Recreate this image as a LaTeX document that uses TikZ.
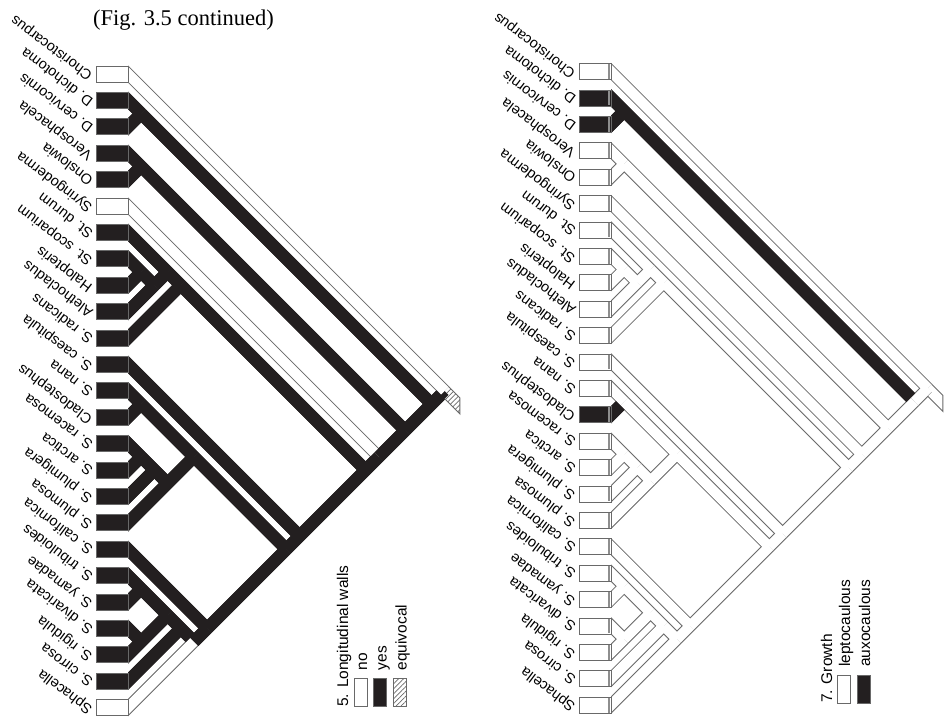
\documentclass[tikz,border=0pt]{standalone}
\usepackage{fontspec}
\setmainfont{Liberation Serif}
\setsansfont{Liberation Sans}
\usetikzlibrary{calc,patterns.meta}
\definecolor{kcol}{RGB}{35,31,32}
\definecolor{gcol}{RGB}{105,105,105}
\newif\ifLeft
\def\pfx{L}
\def\Tip#1#2#3#4{\ifLeft\Tdraw{#1}{#2}{#3}\else\Tdraw{#1}{#2}{#4}\fi}
\def\Edg#1#2#3#4{\ifLeft\Edraw{#1}{#2}{#3}\else\Edraw{#1}{#2}{#4}\fi}
\def\Tdraw#1#2#3{\draw[st#3] ($(\pfx#1-#1)!-11.314pt!(\pfx#2)$) -- (\pfx#2);}
\def\Edraw#1#2#3{\draw[st#3] (\pfx#1) -- (\pfx#2);}
\newcommand\edgelist{%
 \Tip{3}{2-3}{K}{K}
 \Tip{5}{4-5}{K}{W}
 \Tip{9}{8-9}{K}{W}
 \Tip{14}{13-14}{K}{K}
 \Tip{16}{15-16}{K}{W}
 \Tip{21}{20-21}{K}{W}
 \Tip{22}{22-23}{K}{W}
 \Tip{8}{8-9}{K}{W} \Edg{8-9}{8-10}{K}{W}
 \Tip{17}{15-17}{K}{W}
 \Tip{10}{8-10}{K}{W} \Edg{8-10}{7-10}{K}{W}
 \Tip{15}{15-16}{K}{W} \Edg{15-16}{15-17}{K}{W} \Edg{15-17}{15-18}{K}{W}
 \Tip{23}{22-23}{K}{W} \Edg{22-23}{20-23}{K}{W}
 \Tip{11}{7-11}{K}{W}
 \Tip{24}{20-24}{K}{W}
 \Tip{18}{15-18}{K}{W} \Edg{15-18}{13-18}{K}{W}
 \Tip{20}{20-21}{K}{W} \Edg{20-21}{20-23}{K}{W} \Edg{20-23}{20-24}{K}{W} \Edg{20-24}{20-25}{K}{W}
 \Tip{19}{19-25}{K}{W}
 \Tip{13}{13-14}{K}{W} \Edg{13-14}{13-18}{K}{W} \Edg{13-18}{13-25}{K}{W}
 \Tip{12}{12-25}{K}{W}
 \Tip{7}{7-10}{K}{W} \Edg{7-10}{7-11}{K}{W} \Edg{7-11}{7-25}{K}{W}
 \Tip{6}{6-25}{W}{W}
 \Tip{4}{4-5}{K}{W} \Edg{4-5}{4-25}{K}{W}
 \Tip{2}{2-3}{K}{K} \Edg{2-3}{2-25}{K}{K}
 \Tip{25}{20-25}{W}{W} \Edg{20-25}{19-25}{K}{W} \Edg{19-25}{13-25}{K}{W}
 \Edg{13-25}{12-25}{K}{W} \Edg{12-25}{7-25}{K}{W} \Edg{7-25}{6-25}{K}{W}
 \Edg{6-25}{4-25}{K}{W} \Edg{4-25}{2-25}{K}{W} \Edg{2-25}{1-25}{K}{W}
 \Tip{1}{1-25}{W}{W}
}
\newcommand\mkcoords[3]{%
 \foreach \i/\j in {1/1,2/2,3/3,4/4,5/5,6/6,7/7,8/8,9/9,10/10,11/11,12/12,13/13,
   14/14,15/15,16/16,17/17,18/18,19/19,20/20,21/21,22/22,23/23,24/24,25/25,
   1/25,2/25,2/3,4/25,4/5,6/25,7/25,7/11,7/10,8/10,8/9,12/25,13/25,13/18,13/14,
   15/18,15/17,15/16,19/25,20/25,20/24,20/23,20/21,22/23}
  {\coordinate (#1\i-\j) at ({#2+13.2*(\j-\i)},{#3+13.2*(\i+\j-2)});}%
}
\newcommand\drawpanel[2]{%
 \def\pfx{#1}%
 \begin{scope}
  \clip (#2,0) rectangle (946,726);
  \tikzset{stW/.style={oW},stK/.style={oK}}\edgelist
  \tikzset{stW/.style={fW},stK/.style={fK}}\edgelist
 \end{scope}
}
\begin{document}
\begin{tikzpicture}[x=1pt,y=-1pt,
  oW/.style={draw=gcol,line width=12.3pt},
  oK/.style={draw=kcol,line width=12.3pt},
  fW/.style={draw=white,line width=10.3pt},
  fK/.style={draw=kcol,line width=12.3pt},
  box/.style={draw=gcol,line width=0.8pt,minimum width=32pt,minimum height=16pt,inner sep=0pt,outer sep=0pt},
  lbox/.style={draw=gcol,line width=0.8pt,minimum width=13pt,minimum height=28pt,inner sep=0pt,outer sep=0pt},
  lab/.style={rotate=143,anchor=west,inner sep=0pt,font=\sffamily\fontsize{14.5}{16}\selectfont},
  leg/.style={rotate=90,anchor=base west,inner sep=0pt,font=\sffamily\fontsize{15.5}{18}\selectfont},
  hatch/.style={pattern={Lines[angle=45,distance=3.5pt,line width=0.7pt]},pattern color=gcol},
  stubline/.style={draw=gcol,line width=1pt},
  edgeshade/.style={draw=gcol!75,line width=1.6pt}]
\fill[white] (0,0) rectangle (946,726);
\path[use as bounding box] (0,0) rectangle (946,726);
\node[anchor=base west,inner sep=0pt,font=\fontsize{22.5}{26}\selectfont] (title) at (93,25.5) {(Fig. 3.5 continued)};
\mkcoords{L}{128}{74}
\mkcoords{R}{611}{71.5}
\Lefttrue\drawpanel{L}{128}
\Leftfalse\drawpanel{R}{611}
% root stubs
\fill[white] ($(L1-25)+(4,-4)$) -- ($(L1-25)+(15,7)$) -- ($(L1-25)+(15,23)$) -- ($(L1-25)+(0,8)$) -- ($(L1-25)+(4,4)$) -- ($(L1-25)$) -- cycle;
\fill[hatch] ($(L1-25)+(4,-4)$) -- ($(L1-25)+(15,7)$) -- ($(L1-25)+(15,23)$) -- ($(L1-25)+(0,8)$) -- ($(L1-25)+(4,4)$) -- ($(L1-25)$) -- cycle;
\draw[stubline] ($(L1-25)+(4,-4)$) -- ($(L1-25)+(15,7)$) -- ($(L1-25)+(15,23)$) -- ($(L1-25)+(0,8)$);
\fill[white] ($(R1-25)+(4,-4)$) -- ($(R1-25)+(15,7)$) -- ($(R1-25)+(15,23)$) -- ($(R1-25)+(0,8)$) -- ($(R1-25)+(4,4)$) -- ($(R1-25)$) -- cycle;
\draw[stubline] ($(R1-25)+(4,-4)$) -- ($(R1-25)+(15,7)$) -- ($(R1-25)+(15,23)$) -- ($(R1-25)+(0,8)$);
% tips
\foreach \k/\nm/\colL/\colR in {
1/Choristocarpus/white/white,
2/D. dichotoma/kcol/kcol,
3/D. cervicornis/kcol/kcol,
4/Verosphacela/kcol/white,
5/Onslowia/kcol/white,
6/Syringoderma/white/white,
7/St. durum/kcol/white,
8/St. scoparium/kcol/white,
9/Halopteris/kcol/white,
10/Alethocladus/kcol/white,
11/S. radicans/kcol/white,
12/S. caespitula/kcol/white,
13/S. nana/kcol/white,
14/Cladostephus/kcol/kcol,
15/S. racemosa/kcol/white,
16/S. arctica/kcol/white,
17/S. plumigera/kcol/white,
18/S. plumosa/kcol/white,
19/S. californica/kcol/white,
20/S. tribuloides/kcol/white,
21/S. yamadae/kcol/white,
22/S. divaricata/kcol/white,
23/S. rigidula/kcol/white,
24/S. cirrosa/kcol/white,
25/Sphacella/white/white}{
 \node[box,fill=\colL] (LB\k) at (112,{74+26.4*(\k-1)}) {};
 \node[lab] (LT\k) at ($(LB\k.west)+(-5,3)$) {\nm};
 \node[box,fill=\colR] (RB\k) at (595,{71.5+26.4*(\k-1)}) {};
 \draw[edgeshade] ($(RB\k.north east)+(-1.8,0.6)$) -- ($(RB\k.south east)+(-1.8,-0.6)$);
 \node[lab] (RT\k) at ($(RB\k.west)+(-5,3)$) {\nm};
}
% legend left
\node[leg] (lgt) at (348,707) {5.\hspace{6pt}Longitudinal walls};
\node[lbox,fill=white] (lg1) at (360.5,692.5) {};
\node[lbox,fill=kcol] (lg2) at (380,692.5) {};
\node[lbox,hatch] (lg3) at (400,692.5) {};
\node[leg] (lgl1) at ($(lg1.north east)+(0,-8)$) {no};
\node[leg] (lgl2) at ($(lg2.north east)+(0,-8)$) {yes};
\node[leg] (lgl3) at ($(lg3.north east)+(0,-8)$) {equivocal};
% legend right
\node[leg] (rgt) at (832,703) {7. Growth};
\node[lbox,fill=white] (rg1) at (843.5,689) {};
\node[lbox,fill=kcol] (rg2) at (863.5,689) {};
\node[leg] (rgl1) at ($(rg1.north east)+(0,-8)$) {leptocaulous};
\node[leg] (rgl2) at ($(rg2.north east)+(0,-8)$) {auxocaulous};
\end{tikzpicture}
\end{document}
